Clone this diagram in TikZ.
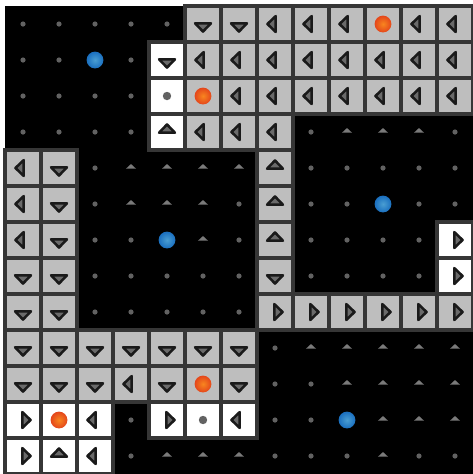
\documentclass[tikz,border=0pt]{standalone}
\usepackage{xcolor}
\usepackage{tikz}
\definecolor{GWblack}{HTML}{000000}
\definecolor{GWgray}{HTML}{BEBEBE}
\definecolor{GWline}{HTML}{363636}
\definecolor{GWglyph}{HTML}{1A1A1A}
\definecolor{GWglyphIn}{HTML}{6A6A6A}
\definecolor{GWmark}{HTML}{626262}
\definecolor{GWmarkUp}{HTML}{7A7A7A}
\definecolor{GWblue}{HTML}{1A6FBF}
\definecolor{GWblueIn}{HTML}{4A9ED2}
\definecolor{GWorange}{HTML}{E4461B}
\definecolor{GWorangeIn}{HTML}{F8861F}
\tikzset{
  graycell/.style={draw=GWline, line width=2.6pt, fill=GWgray, minimum size=0.9cm, inner sep=0pt},
  whitecell/.style={graycell, fill=white},
  bluedot/.style={circle, minimum size=0.42cm, inner sep=0pt, inner color=GWblueIn, outer color=GWblue},
  orangedot/.style={circle, minimum size=0.42cm, inner sep=0pt, inner color=GWorangeIn, outer color=GWorange},
  greydot/.style={circle, fill=GWmark, minimum size=0.21cm, inner sep=0pt},
  cellmark/.style={circle, fill=GWmark, minimum size=0.13cm, inner sep=0pt},
  pics/bigarrow/.style={code={\draw[draw=GWglyph, fill=GWglyphIn, line width=1.8pt, line join=round] (-0.22,0.02) -- (0.22,0.02) -- (0,-0.21) -- cycle;}},
  pics/smallup/.style={code={\fill[GWmarkUp] (-0.14,-0.02) -- (0.14,-0.02) -- (0,0.11) -- cycle;}}
}

\begin{document}
\begin{tikzpicture}[x=0.9cm, y=0.9cm]
  \useasboundingbox[fill=white] (-0.139,0.167) rectangle (13,-13);
  \fill[GWblack] (0,0) rectangle (13,-13);
  % gray cells, arrow turned: 0 down, -90 left, 180 up, 90 right
  \foreach \cc/\rr/\rot in {5/0/0,6/0/0,7/0/-90,8/0/-90,9/0/-90,11/0/-90,12/0/-90,
      5/1/-90,6/1/-90,7/1/-90,8/1/-90,9/1/-90,10/1/-90,11/1/-90,12/1/-90,
      6/2/-90,7/2/-90,8/2/-90,9/2/-90,10/2/-90,11/2/-90,12/2/-90,
      5/3/-90,6/3/-90,7/3/-90,
      0/4/-90,1/4/0,7/4/180, 0/5/-90,1/5/0,7/5/180, 0/6/-90,1/6/0,7/6/180,
      0/7/0,1/7/0,7/7/0,
      0/8/0,1/8/0,7/8/90,8/8/90,9/8/90,10/8/90,11/8/90,12/8/90,
      0/9/0,1/9/0,2/9/0,3/9/0,4/9/0,5/9/0,6/9/0,
      0/10/0,1/10/0,2/10/0,3/10/-90,4/10/0,6/10/0}{
    \node[graycell] (g-\cc-\rr) at (\cc+0.5,-\rr-0.5) {};
    \pic[rotate=\rot] at (g-\cc-\rr) {bigarrow};
  }
  \foreach \cc/\rr in {10/0,5/2,5/10}
    \node[graycell] (g-\cc-\rr) at (\cc+0.5,-\rr-0.5) {};
  % white cells
  \foreach \cc/\rr/\rot in {4/1/0,4/3/180,12/6/90,12/7/90,0/11/90,2/11/-90,4/11/90,6/11/-90,
      0/12/90,1/12/180,2/12/-90}{
    \node[whitecell] (w-\cc-\rr) at (\cc+0.5,-\rr-0.5) {};
    \pic[rotate=\rot] at (w-\cc-\rr) {bigarrow};
  }
  \foreach \cc/\rr in {4/2,5/11,1/11}
    \node[whitecell] (w-\cc-\rr) at (\cc+0.5,-\rr-0.5) {};
  \node[greydot] (stay-a) at (w-4-2) {};
  \node[greydot] (stay-b) at (w-5-11) {};
  % marks on the black cells
  \foreach \cc/\rr in {0/0,1/0,2/0,3/0,4/0, 0/1,1/1,3/1, 0/2,1/2,2/2,3/2,
      0/3,1/3,2/3,3/3,8/3,12/3, 2/4,8/4,9/4,10/4,11/4,12/4,
      2/5,6/5,8/5,9/5,11/5,12/5, 2/6,3/6,6/6,8/6,9/6,10/6,11/6,
      2/7,3/7,4/7,5/7,6/7,8/7,9/7,10/7,11/7, 2/8,3/8,4/8,5/8,6/8,
      7/9, 7/10,8/10, 3/11,7/11,8/11, 3/12,7/12,8/12,9/12,11/12,12/12}
    \node[cellmark] (m-\cc-\rr) at (\cc+0.5,-\rr-0.5) {};
  \foreach \cc/\rr in {9/3,10/3,11/3, 3/4,4/4,5/4,6/4, 3/5,4/5,5/5, 5/6,
      8/9,9/9,10/9,11/9,12/9, 9/10,10/10,11/10,12/10, 10/11,11/11,12/11,
      4/12,5/12,6/12,10/12}
    \pic at (\cc+0.5,-\rr-0.5) {smallup};
  % agents and goals
  \node[bluedot] (blue-a) at (2.5,-1.5) {};
  \node[bluedot] (blue-b) at (10.5,-5.5) {};
  \node[bluedot] (blue-c) at (4.5,-6.5) {};
  \node[bluedot] (blue-d) at (9.5,-11.5) {};
  \node[orangedot] (orange-a) at (g-10-0) {};
  \node[orangedot] (orange-b) at (g-5-2) {};
  \node[orangedot] (orange-c) at (g-5-10) {};
  \node[orangedot] (orange-d) at (w-1-11) {};
\end{tikzpicture}
\end{document}
